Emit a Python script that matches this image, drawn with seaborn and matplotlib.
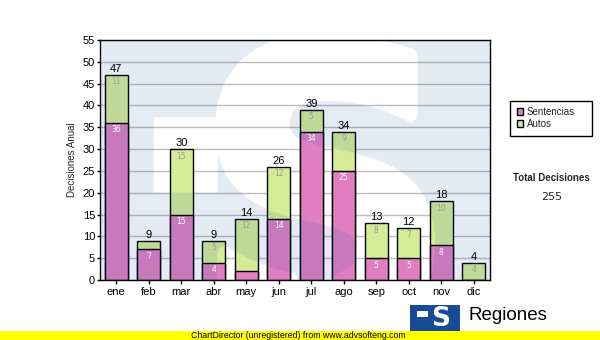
import numpy as np
import pandas as pd
import matplotlib
matplotlib.use("Agg")
import matplotlib.pyplot as plt
import seaborn as sns
from matplotlib.patches import Patch, Rectangle
from matplotlib.textpath import TextPath
from matplotlib.font_manager import FontProperties
from matplotlib.path import Path

# --- data -------------------------------------------------------------
meses = ["ene", "feb", "mar", "abr", "may", "jun", "jul", "ago", "sep", "oct", "nov", "dic"]
sentencias = [36, 7, 15, 4, 2, 14, 34, 25, 5, 5, 8, 0]
autos = [11, 2, 15, 5, 12, 12, 5, 9, 8, 7, 10, 4]
y_ticks = list(range(0, 56, 5))
series = ["Sentencias", "Autos"]

totales = [s + a for s, a in zip(sentencias, autos)]
total_decisiones = sum(totales)

df = pd.DataFrame({"mes": meses, "sentencias": sentencias,
                   "autos": autos, "total": totales})

# --- style ------------------------------------------------------------
ROSA = "#e07ec2"
VERDE = "#d5ec97"
AZUL_LOGO = "#164b97"

sns.set_style("white")
plt.rcParams["font.family"] = ["Liberation Sans", "DejaVu Sans"]

W, H = 600, 340
fig = plt.figure(figsize=(W / 100, H / 100), dpi=100)
fig.patch.set_facecolor("white")

# plot area in pixel units (left, top, right, bottom)
PL, PT, PR, PB = 100, 40, 490, 280
ax = fig.add_axes([PL / W, 1 - PB / H, (PR - PL) / W, (PB - PT) / H])
ax.set_facecolor("white")

# stacked bars: full total in green, sentencias drawn over it in pink
sns.barplot(data=df, x="mes", y="total", color=VERDE, saturation=1,
            width=0.72, edgecolor="black", linewidth=1, errorbar=None,
            ax=ax, zorder=2)
sns.barplot(data=df, x="mes", y="sentencias", color=ROSA, saturation=1,
            width=0.72, edgecolor="black", linewidth=1, errorbar=None,
            ax=ax, zorder=2)

# --- faint logo watermark over the plot area --------------------------
xs = np.arange(PL, PR) + 0.5
ys = np.arange(PT, PB) + 0.5
gx, gy = np.meshgrid(xs, ys)
pts = np.column_stack([gx.ravel(), gy.ravel()])

tp = TextPath((0, 0), "S", size=1, prop=FontProperties(family="DejaVu Sans", weight="bold"))
bb = tp.get_extents()
sx0, sx1, sy0, sy1 = 222, 428, 42, 335
vx = sx0 + (tp.vertices[:, 0] - bb.x0) / bb.width * (sx1 - sx0)
vy = sy0 + (bb.y1 - tp.vertices[:, 1]) / bb.height * (sy1 - sy0)
s_path = Path(np.column_stack([vx, vy]), tp.codes)
in_s = s_path.contains_points(pts).reshape(gx.shape)

# thicken the letter strokes
r = 7
pad = np.pad(in_s, r)
thick = np.zeros_like(in_s)
for dy in range(-r, r + 1):
    for dx in range(-r, r + 1):
        if dx * dx + dy * dy <= r * r:
            thick |= pad[r + dy:r + dy + in_s.shape[0], r + dx:r + dx + in_s.shape[1]]

in_t = (gx >= 154) & (gx <= 218) & (gy >= 118) & (gy <= 193)
blue = (~(thick | in_t)).astype(float)

rgb = np.array(matplotlib.colors.to_rgb("#1a55a0"))
img = np.zeros(blue.shape + (4,))
img[..., :3] = rgb
img[..., 3] = 0.12 * blue
ax.imshow(img, extent=(-0.5, len(meses) - 0.5, 0, 55), origin="upper",
          aspect="auto", interpolation="bilinear", zorder=3)

# --- axes -------------------------------------------------------------
ax.set_xlim(-0.5, len(meses) - 0.5)
ax.set_ylim(0, 55)
ax.set_yticks(y_ticks)
ax.yaxis.grid(True, color="#bdbdbd", linewidth=1)
ax.xaxis.grid(False)
ax.set_axisbelow(True)
for sp in ax.spines.values():
    sp.set_visible(True)
    sp.set_color("black")
    sp.set_linewidth(1)
ax.tick_params(axis="y", direction="out", length=2.5, width=1, pad=1,
               labelsize=8, colors="black", left=True)
ax.tick_params(axis="x", direction="out", length=3.2, width=1, pad=2,
               labelsize=8, colors="black", bottom=True)
ax.set_xlabel("")
ax.set_ylabel("Decisiones Anual", fontsize=7)
ax.yaxis.set_label_coords((77 - PL) / (PR - PL), 0.5)

# --- value labels -----------------------------------------------------
for i, (s, a, t) in enumerate(zip(sentencias, autos, totales)):
    if s > 2:
        ax.annotate(str(s), (i, s), xytext=(0, -7), textcoords="offset pixels",
                    ha="center", va="center", color="white", fontsize=5.5,
                    family="DejaVu Sans", zorder=5)
    if a > 2:
        ax.annotate(str(a), (i, t), xytext=(0, -7), textcoords="offset pixels",
                    ha="center", va="center", color="#9a9a9a", fontsize=5.5,
                    family="DejaVu Sans", zorder=5)
    ax.annotate(str(t), (i, t), xytext=(0, 6), textcoords="offset pixels",
                ha="center", va="center", color="black", fontsize=8, zorder=5)

# --- legend -----------------------------------------------------------
fig.patches.append(Rectangle((510 / W, 1 - 136 / H), 82 / W, 35 / H,
                             transform=fig.transFigure, facecolor="white",
                             edgecolor="black", linewidth=1))
handles = [Patch(facecolor=ROSA, edgecolor="black", label=series[0]),
           Patch(facecolor=VERDE, edgecolor="black", label=series[1])]
fig.legend(handles=handles, loc="upper left", bbox_to_anchor=(517 / W, 1 - 107 / H),
           bbox_transform=fig.transFigure, frameon=False, fontsize=7,
           handlelength=0.65, handleheight=0.65, handletextpad=0.35,
           labelspacing=0.22, borderpad=0, borderaxespad=0)

fig.text(551 / W, 1 - 178 / H, "Total Decisiones", ha="center", va="center",
         fontsize=7, fontweight="bold")
fig.text(552 / W, 1 - 197 / H, str(total_decisiones), ha="center", va="center",
         fontsize=8, family="DejaVu Sans")

# --- footer: logo and banner ------------------------------------------
fig.patches.append(Rectangle((410 / W, 1 - 331 / H), 50 / W, 26 / H,
                             transform=fig.transFigure, facecolor=AZUL_LOGO,
                             edgecolor="none"))
fig.patches.append(Rectangle((417 / W, 1 - 317 / H), 11 / W, 6 / H,
                             transform=fig.transFigure, facecolor="white",
                             edgecolor="none"))
fig.text(441 / W, 1 - 319 / H, "S", ha="center", va="center", color="white",
         fontsize=19, fontweight="bold", family="DejaVu Sans")
fig.text(468 / W, 1 - 315 / H, "Regiones", ha="left", va="center",
         fontsize=13.5, color="black")

fig.patches.append(Rectangle((0, 0), 1, 9 / H, transform=fig.transFigure,
                             facecolor="#ffff00", edgecolor="none"))
fig.text(298 / W, 4.5 / H, "ChartDirector (unregistered) from www.advsofteng.com",
         ha="center", va="center", fontsize=6.3, color="black")

fig.savefig("out.png", dpi=100)
